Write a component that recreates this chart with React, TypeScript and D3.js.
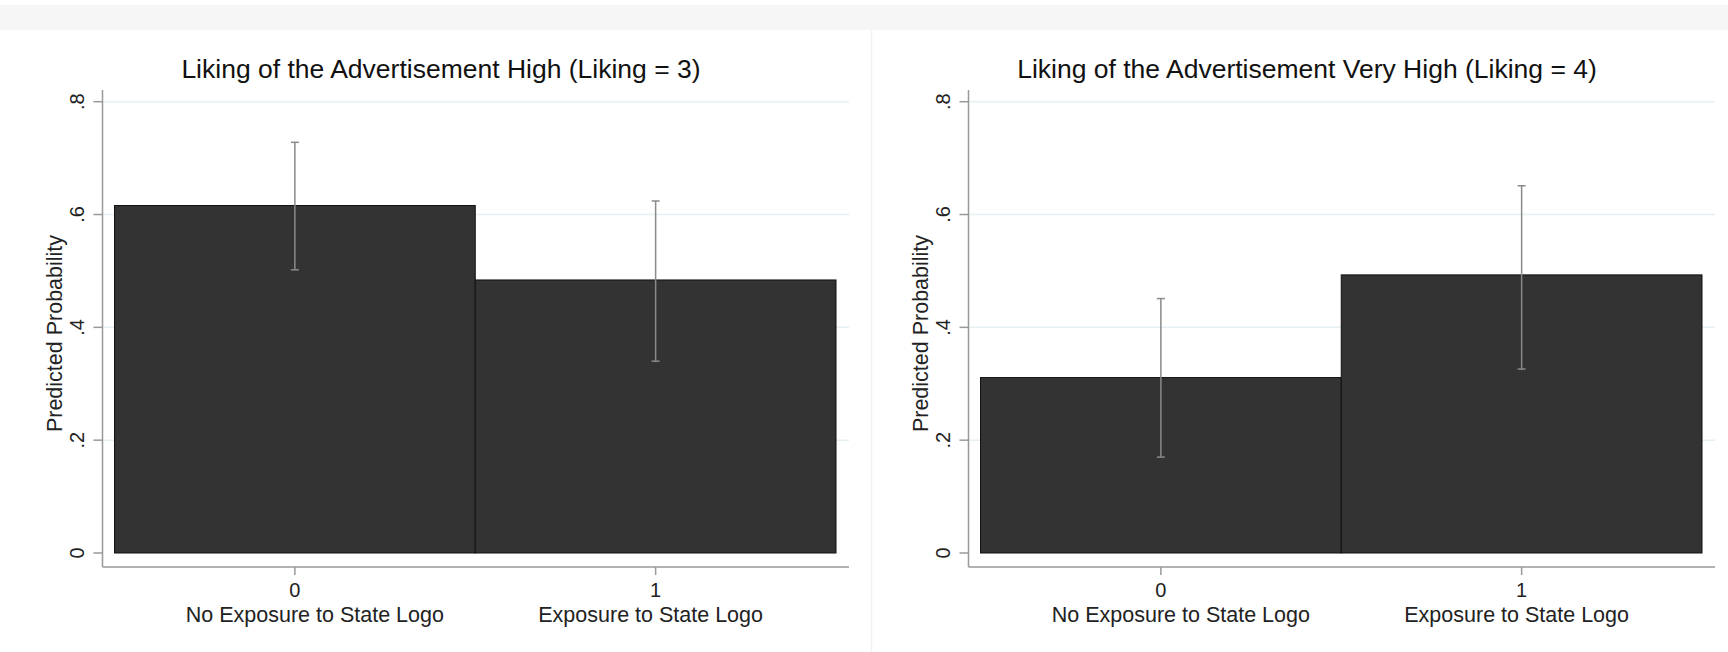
import React from 'react';
import * as d3 from 'd3';

const categories = ['0', '1'];
const categoryLabels = ['No Exposure to State Logo', 'Exposure to State Logo'];
const yTicks = [0, 0.2, 0.4, 0.6, 0.8];
const yTickLabels = ['0', '.2', '.4', '.6', '.8'];

const titleHigh = 'Liking of the Advertisement High (Liking = 3)';
const highValues = [0.616, 0.484];
const highLower = [0.502, 0.34];
const highUpper = [0.728, 0.624];

const titleVeryHigh = 'Liking of the Advertisement Very High (Liking = 4)';
const veryHighValues = [0.311, 0.493];
const veryHighLower = [0.17, 0.326];
const veryHighUpper = [0.451, 0.651];

const FONT = '"Liberation Sans", Arial, Helvetica, sans-serif';
const W = 1728, H = 652;

// plot region inside one panel
const plotLeft = 102.5, plotRight = 849, plotTop = 90, axisY = 567;
const labelDx = [20, -5]; // stata put the category text a bit off the ticks

function Panel({ dx, title, values, lower, upper }) {
  const x = d3.scaleBand().domain(categories).range([plotLeft + 12, plotRight - 13]).padding(0);
  const y = d3.scaleLinear().domain([0, 0.8]).range([553, 101.7]);
  const mid = (c) => x(c) + x.bandwidth() / 2;

  return (
    <g transform={`translate(${dx},0)`}>
      <text x={441} y={78} textAnchor="middle" fontSize={26.5} fill="#111" fontFamily={FONT}>{title}</text>

      {/* gridlines */}
      {yTicks.filter((t) => t > 0).map((t) => (
        <line key={t} x1={plotLeft} x2={plotRight} y1={y(t)} y2={y(t)} stroke="#e6f0f3" strokeWidth={1.5} />
      ))}

      {/* bars */}
      {categories.map((c, i) => (
        <rect key={c} x={x(c)} y={y(values[i])} width={x.bandwidth()} height={y(0) - y(values[i])}
          fill="#333333" stroke="#111" strokeWidth={1} />
      ))}

      {/* error bars */}
      {categories.map((c, i) => (
        <g key={c} stroke="#8a8a8a" strokeWidth={1.5}>
          <line x1={mid(c)} x2={mid(c)} y1={y(upper[i])} y2={y(lower[i])} />
          <line x1={mid(c) - 4} x2={mid(c) + 4} y1={y(upper[i])} y2={y(upper[i])} />
          <line x1={mid(c) - 4} x2={mid(c) + 4} y1={y(lower[i])} y2={y(lower[i])} />
        </g>
      ))}

      {/* axes */}
      <line x1={plotLeft} x2={plotLeft} y1={plotTop} y2={axisY} stroke="#999" strokeWidth={1.5} />
      <line x1={plotLeft} x2={plotRight} y1={axisY} y2={axisY} stroke="#999" strokeWidth={1.5} />
      {yTicks.map((t, i) => (
        <g key={t}>
          <line x1={plotLeft - 9} x2={plotLeft} y1={y(t)} y2={y(t)} stroke="#999" strokeWidth={1.5} />
          <text transform={`translate(${plotLeft - 19},${y(t)}) rotate(-90)`} textAnchor="middle"
            fontSize={20} fill="#222" fontFamily={FONT}>{yTickLabels[i]}</text>
        </g>
      ))}
      <text transform={`translate(62,${(plotTop + axisY) / 2 + 5}) rotate(-90)`} textAnchor="middle"
        fontSize={21.5} fill="#222" fontFamily={FONT}>Predicted Probability</text>

      {categories.map((c, i) => (
        <g key={c}>
          <line x1={mid(c)} x2={mid(c)} y1={axisY} y2={axisY + 8} stroke="#999" strokeWidth={1.5} />
          <text x={mid(c)} y={597} textAnchor="middle" fontSize={20} fill="#222" fontFamily={FONT}>{c}</text>
          <text x={mid(c) + labelDx[i]} y={622} textAnchor="middle" fontSize={21.5} fill="#222" fontFamily={FONT}>
            {categoryLabels[i]}
          </text>
        </g>
      ))}
    </g>
  );
}

export default function App() {
  return (
    <svg width={W} height={H} style={{ position: 'absolute', left: 0, top: 0, display: 'block', background: '#fff' }}>
      <rect x={0} y={0} width={W} height={H} fill="#fff" />
      <rect x={0} y={5} width={W} height={25} fill="#f6f6f6" />
      <line x1={871.5} x2={871.5} y1={30} y2={H} stroke="#edf3f5" strokeWidth={1.5} />
      <Panel dx={0} title={titleHigh} values={highValues} lower={highLower} upper={highUpper} />
      <Panel dx={866} title={titleVeryHigh} values={veryHighValues} lower={veryHighLower} upper={veryHighUpper} />
    </svg>
  );
}
